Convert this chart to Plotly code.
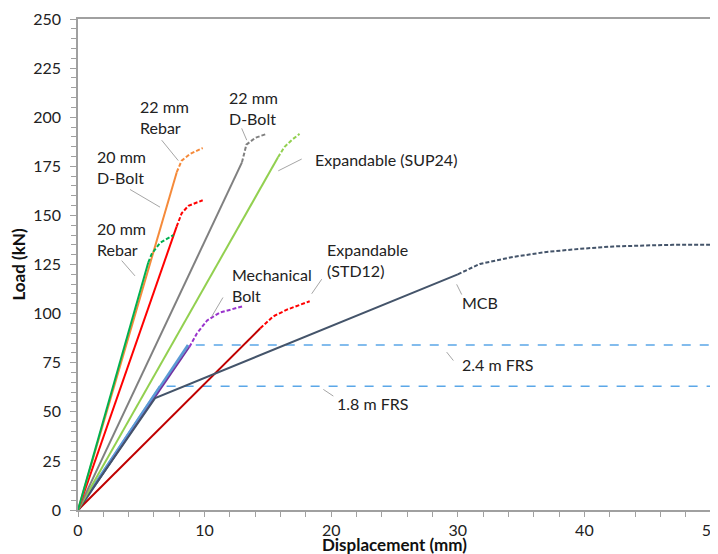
import plotly.graph_objects as go

# ---------------- data (displacement mm, load kN) ----------------
rebar20_solid_x = [0, 5.55]
rebar20_solid_y = [0, 126]
rebar20_dash_x = [5.55, 5.82, 6.48, 7.53]
rebar20_dash_y = [126, 130.4, 136, 139.9]

rebar22_solid_x = [0, 7.8]
rebar22_solid_y = [0, 172]
rebar22_dash_x = [7.8, 8.19, 8.85, 9.85]
rebar22_dash_y = [172, 177.9, 181.3, 184.3]

dbolt20_solid_x = [0, 7.79]
dbolt20_solid_y = [0, 144.3]
dbolt20_dash_x = [7.79, 8.19, 8.72, 9.85]
dbolt20_dash_y = [144.3, 151.1, 154.9, 157.7]

dbolt22_solid_x = [0, 12.95]
dbolt22_solid_y = [0, 177]
dbolt22_dash_x = [12.95, 13.3, 14.0, 14.9]
dbolt22_dash_y = [177, 186, 189.5, 191.5]

sup24_solid_x = [0, 15.8]
sup24_solid_y = [0, 179.6]
sup24_dash_x = [15.8, 16.3, 16.9, 17.5]
sup24_dash_y = [179.6, 184.8, 188.5, 191.5]

frs18_solid_x = [0, 6.5]
frs18_solid_y = [0, 63]
frs18_dash_x = [7.0, 50]
frs18_dash_y = [63, 63]

frs24_solid_x = [0, 8.7]
frs24_solid_y = [0, 84]
frs24_dash_x = [9.3, 50]
frs24_dash_y = [84, 84]

mech_solid_x = [0, 8.8]
mech_solid_y = [0, 83]
mech_dash_x = [8.8, 9.4, 10.2, 11.2, 13.0]
mech_dash_y = [83, 90, 96.5, 100.5, 103.7]

std12_solid_x = [0, 14.4]
std12_solid_y = [0, 92.5]
std12_dash_x = [14.4, 15.4, 16.5, 18.3]
std12_dash_y = [92.5, 98.5, 102, 106.3]

mcb_solid_x = [0, 6.1, 30]
mcb_solid_y = [0, 57, 120]
mcb_dash_x = [30, 31.75, 34.4, 37, 39.7, 42.3, 44.9, 47, 50]
mcb_dash_y = [120, 125.3, 128.9, 131.4, 133, 134.2, 134.7, 135, 135]

# labels: text, x, y (left anchored), leader line x0,y0,x1,y1
labels = [
    ("22 mm<br>Rebar", 4.7, 200.3, 6.61, 188.3, 7.92, 177.9),
    ("20 mm<br>D-Bolt", 1.34, 174.4, 4.11, 163.2, 6.48, 154.2),
    ("20 mm<br>Rebar", 1.34, 138.2, 3.45, 127.0, 4.50, 119.2),
    ("22 mm<br>D-Bolt", 11.74, 204.8, 12.93, 194.3, 13.33, 188.3),
    ("Expandable (SUP24)", 18.6, 178.4, 17.67, 178.7, 15.82, 172.7),
    ("Mechanical<br>Bolt", 12.0, 114.7, 11.45, 108.2, 10.56, 98.5),
    ("Expandable<br>(STD12)", 19.5, 127.4, 19.25, 117.5, 18.46, 110.1),
    ("MCB", 30.17, 105.4, 29.91, 114.9, 30.31, 109.7),
    ("2.4 m FRS", 30.17, 73.9, 29.12, 80.4, 29.65, 76.1),
    ("1.8 m FRS", 20.3, 54.0, 19.38, 61.4, 20.17, 58.0),
]

x_ticks = [0, 10, 20, 30, 40, 50]
y_ticks = [0, 25, 50, 75, 100, 125, 150, 175, 200, 225, 250]
x_title = "Displacement (mm)"
y_title = "Load (kN)"

FONT = "Lato"
DASH = "4px,2px"

fig = go.Figure()

def add(x, y, color, dash=None, width=2):
    fig.add_trace(go.Scatter(x=x, y=y, mode="lines",
                             line=dict(color=color, width=width, dash=dash),
                             showlegend=False, hoverinfo="skip"))

# FRS (blue)
add(frs18_solid_x, frs18_solid_y, "#5B9BD5", width=3)
add(frs24_solid_x, frs24_solid_y, "#5B9BD5", width=3)
add(frs18_dash_x, frs18_dash_y, "#5BA7E8", "dash", 1.5)
add(frs24_dash_x, frs24_dash_y, "#5BA7E8", "dash", 1.5)
# Mechanical bolt
add(mech_solid_x, mech_solid_y, "#7030A0", width=1.5)
add(mech_dash_x, mech_dash_y, "#9933CC", DASH)
# STD12
add(std12_solid_x, std12_solid_y, "#C00000")
add(std12_dash_x, std12_dash_y, "#FF0000", DASH)
# MCB
add(mcb_solid_x, mcb_solid_y, "#44546A")
add(mcb_dash_x, mcb_dash_y, "#44546A", DASH)
# SUP24
add(sup24_solid_x, sup24_solid_y, "#92D050")
add(sup24_dash_x, sup24_dash_y, "#92D050", DASH)
# 22 D-Bolt
add(dbolt22_solid_x, dbolt22_solid_y, "#808080")
add(dbolt22_dash_x, dbolt22_dash_y, "#808080", DASH)
# 20 D-Bolt
add(dbolt20_solid_x, dbolt20_solid_y, "#FF0000")
add(dbolt20_dash_x, dbolt20_dash_y, "#FF0000", DASH)
# 22 Rebar
add(rebar22_solid_x, rebar22_solid_y, "#F58A3A")
add(rebar22_dash_x, rebar22_dash_y, "#F58A3A", DASH)
# 20 Rebar
add(rebar20_solid_x, rebar20_solid_y, "#00B050")
add(rebar20_dash_x, rebar20_dash_y, "#00B050", DASH)

for text, tx, ty, x0, y0, x1, y1 in labels:
    fig.add_annotation(x=tx, y=ty, text=text, showarrow=False, xref="x", yref="y",
                       xanchor="left", yanchor="middle", align="left",
                       font=dict(family=FONT, size=16, color="#222222"))
    fig.add_shape(type="line", x0=x0, y0=y0, x1=x1, y1=y1, xref="x", yref="y",
                  line=dict(color="#A6A6A6", width=1))

# x-axis title as an annotation for exact placement
fig.add_annotation(x=0.5, y=0, xref="paper", yref="paper", text="<b>" + x_title + "</b>",
                   showarrow=False, xanchor="center", yanchor="top", yshift=-22,
                   font=dict(family=FONT, size=17, color="#111111"))

axis_common = dict(showline=True, linecolor="#A0A0A0", linewidth=1.5, mirror=True,
                   showgrid=False, zeroline=False, ticks="outside",
                   tickcolor="#A0A0A0", tickwidth=1, automargin=False,
                   ticklabeloverflow="allow",
                   tickfont=dict(family=FONT, size=16, color="#222222"))

fig.update_xaxes(range=[0, 50], tickvals=x_ticks, ticklen=5,
                 minor=dict(dtick=2, tick0=0, ticks="outside", ticklen=5, tickcolor="#A0A0A0", showgrid=False),
                 ticklabelstandoff=0, **axis_common)
fig.update_yaxes(range=[0, 250], tickvals=y_ticks, ticklen=6,
                 minor=dict(dtick=5, tick0=0, ticks="outside", ticklen=5, tickcolor="#A0A0A0", showgrid=False),
                 title=dict(text="<b>" + y_title + "</b>", standoff=6,
                            font=dict(family=FONT, size=17, color="#111111")),
                 ticklabelstandoff=6, **axis_common)

# the page body adds an 8 px offset; size the figure so the plot area lands at x 78-711, y 19-502
fig.update_layout(width=710, height=546,
                  margin=dict(l=70, r=7, t=11, b=44),
                  plot_bgcolor="white", paper_bgcolor="white",
                  font=dict(family=FONT))

fig.write_html("out.html")
